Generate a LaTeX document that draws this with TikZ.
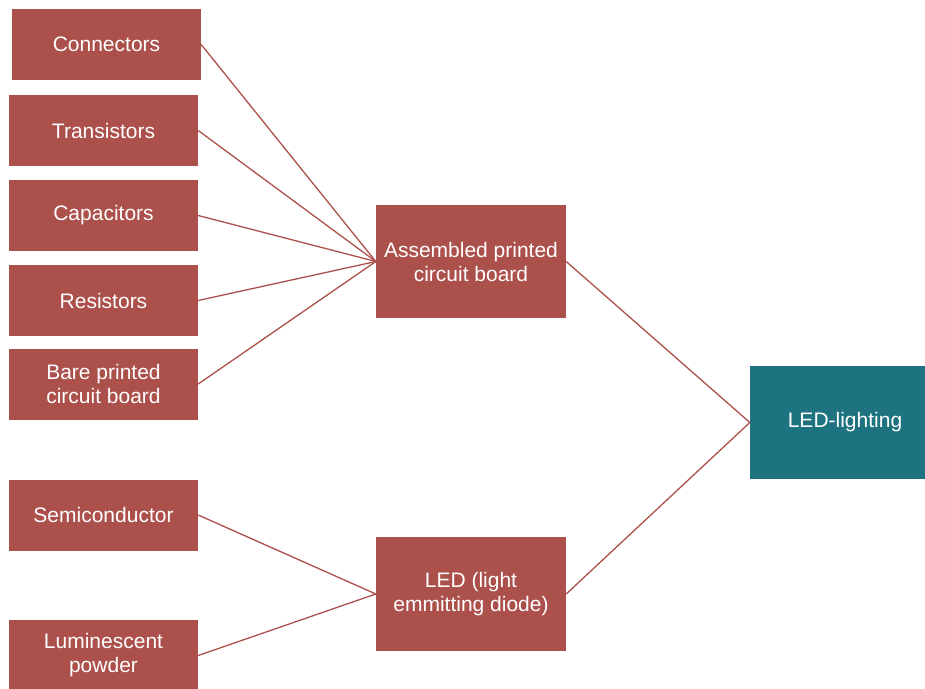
\documentclass[tikz,border=0pt]{standalone}
\usepackage{fontspec}
\setmainfont{Liberation Sans}
\definecolor{brick}{HTML}{AC504C}
\definecolor{petrol}{HTML}{1D7380}
\begin{document}
\begin{tikzpicture}[x=1pt,y=-1pt]

      \clip (0,0) rectangle (925,688);

      \begin{scope}[every node/.style={rectangle,fill=brick,text=white,align=center,inner sep=0pt,
          minimum width=189pt,minimum height=71pt,font=\fontsize{21}{24}\selectfont}]
        \node (con) at (106.5,44.5) {Connectors};
        \node (tra) at (103.5,130.5) {Transistors};
        \node (cap) at (103.5,215.5) {Capacitors};
        \node (res) at (103.5,300.5) {Resistors};
        \node (bare) at (103.5,384) {Bare printed\\circuit board};
        \node (semi) at (103.5,515) {Semiconductor};
        \node (lum) at (103.5,655.5) {Luminescent\\powder};
        \node[minimum width=190pt,minimum height=113pt] (asm) at (471,261.5) {Assembled printed\\circuit board};
        \node[minimum width=190pt,minimum height=114pt] (led) at (471,594) {LED (light\\emmitting diode)};
        \node[fill=petrol,minimum width=190pt,minimum height=113pt] (lit) at (845,422.5) {LED-lighting};
      \end{scope}

      \begin{scope}[every edge/.style={draw=brick,line width=1.3pt}]
        \path (con.east)  edge (asm.west);
        \path (tra.east)  edge (asm.west);
        \path (cap.east)  edge (asm.west);
        \path (res.east)  edge (asm.west);
        \path (bare.east) edge (asm.west);
        \path (semi.east) edge (led.west);
        \path (lum.east)  edge (led.west);
        \path (asm.east)  edge (lit.west);
        \path (led.east)  edge (lit.west);
      \end{scope}

    \end{tikzpicture}
\end{document}
